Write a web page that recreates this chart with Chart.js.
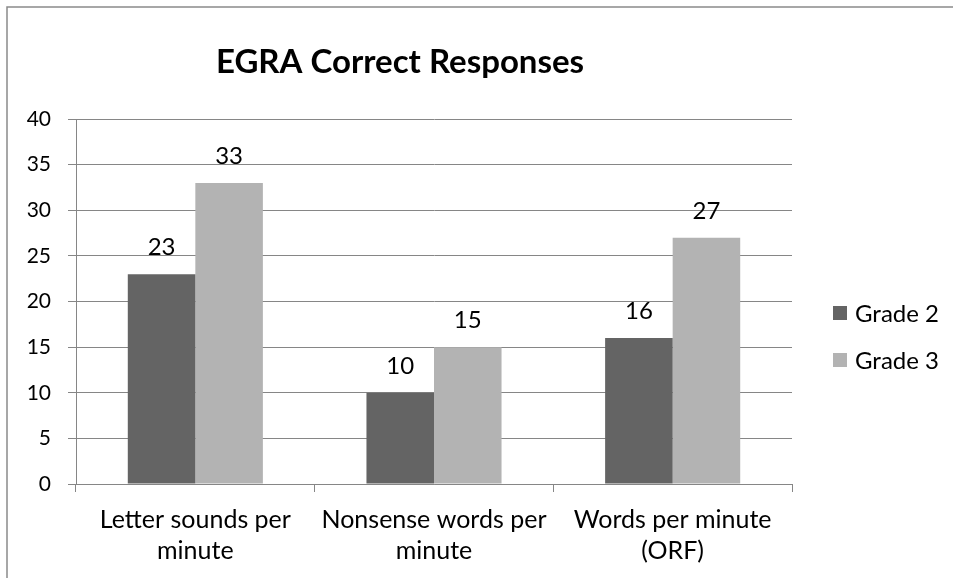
<!DOCTYPE html>
<html>
<head>
<meta charset="utf-8">
<script src="https://cdn.jsdelivr.net/npm/chart.js@4"></script>
<style>
  body { margin: 0; background: #fff; }
  canvas { display: block; }
</style>
</head>
<body>
<canvas id="chart" width="953" height="578"></canvas>
<script>
const categories = [['Letter sounds per', 'minute'], ['Nonsense words per', 'minute'], ['Words per minute', '(ORF)']];
const seriesNames = ['Grade 2', 'Grade 3'];
const grade2 = [23, 10, 16];
const grade3 = [33, 15, 27];
const yMin = 0;
const yMax = 40;
const yStep = 5;
const titleText = 'EGRA Correct Responses';

const FONT = 'Lato';
const gridGrey = '#868686';

// border, title, value labels and legend drawn by hand
const extras = {
    id: 'extras',
    beforeDraw(chart) {
        const ctx = chart.ctx;
        ctx.save();
        ctx.strokeStyle = '#8a8a8a';
        ctx.lineWidth = 1.5;
        ctx.beginPath();
        ctx.moveTo(7, chart.height);
        ctx.lineTo(7, 7);
        ctx.lineTo(chart.width, 7);
        ctx.stroke();
        ctx.restore();
    },
    afterDatasetsDraw(chart) {
        const ctx = chart.ctx;
        ctx.save();
        ctx.fillStyle = '#000';
        ctx.font = '24px ' + FONT;
        ctx.textAlign = 'center';
        ctx.textBaseline = 'alphabetic';
        chart.data.datasets.forEach((ds, i) => {
            chart.getDatasetMeta(i).data.forEach((bar, j) => {
                ctx.fillText(ds.data[j], bar.x, bar.y - 19);
            });
        });
        ctx.restore();
    },
    afterDraw(chart) {
        const ctx = chart.ctx;
        const area = chart.chartArea;
        ctx.save();
        ctx.fillStyle = '#000';
        ctx.font = 'bold 33px ' + FONT;
        ctx.textAlign = 'center';
        ctx.textBaseline = 'alphabetic';
        ctx.fillText(titleText, 400, 73);

        // legend
        ctx.font = '24px ' + FONT;
        ctx.textAlign = 'left';
        ctx.textBaseline = 'middle';
        chart.data.datasets.forEach((ds, i) => {
            const cy = area.top + 194 + i * 47;
            ctx.fillStyle = ds.backgroundColor;
            ctx.fillRect(area.right + 41, cy - 7, 14, 14);
            ctx.fillStyle = '#000';
            ctx.fillText(ds.label, area.right + 63, cy + 1);
        });
        ctx.restore();
    }
};

new Chart(document.getElementById('chart'), {
    type: 'bar',
    data: {
        labels: categories,
        datasets: [
            { label: seriesNames[0], data: grade2, backgroundColor: '#646464' },
            { label: seriesNames[1], data: grade3, backgroundColor: '#b3b3b3' }
        ]
    },
    options: {
        responsive: false,
        animation: false,
        datasets: {
            bar: { categoryPercentage: 0.566, barPercentage: 1 }
        },
        layout: {
            padding: { top: 119, left: 0, right: 161, bottom: 0 }
        },
        plugins: {
            legend: { display: false },
            title: { display: false },
            tooltip: { enabled: false }
        },
        scales: {
            x: {
                afterFit: s => { s.height = 94; },
                grid: {
                    offset: true,
                    drawOnChartArea: false,
                    drawTicks: true,
                    tickLength: 8,
                    color: gridGrey
                },
                border: { color: gridGrey },
                ticks: {
                    color: '#000',
                    padding: 12,
                    font: { family: FONT, size: 25, lineHeight: 1.24 }
                }
            },
            y: {
                min: yMin,
                max: yMax,
                afterFit: s => { s.width = 76; },
                grid: { color: gridGrey, tickLength: 8 },
                border: { color: gridGrey },
                ticks: {
                    stepSize: yStep,
                    color: '#000',
                    padding: 17,
                    font: { family: FONT, size: 21 }
                }
            }
        }
    },
    plugins: [extras]
});
</script>
</body>
</html>
